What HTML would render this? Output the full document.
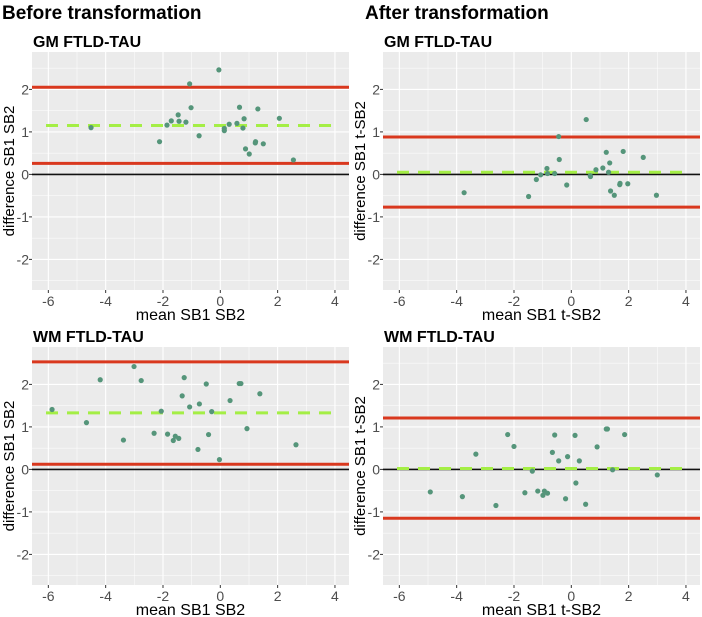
<!DOCTYPE html>
<html><head><meta charset="utf-8"><style>
html,body{margin:0;padding:0;background:#fff;}
svg{display:block;font-family:"Liberation Sans",Arial,sans-serif;}
</style></head><body>
<svg id="chart" width="702" height="617" viewBox="0 0 702 617">
<text x="2" y="19" font-size="19" font-weight="bold" fill="#000">Before transformation</text>
<text x="365" y="19" font-size="19" font-weight="bold" fill="#000">After transformation</text>
</svg>
<script>
const xTicks=[-6,-4,-2,0,2,4];
const yTicks=[-2,-1,0,1,2];
const gmBeforeX=[-4.51,-2.12,-1.86,-1.71,-1.47,-1.44,-1.20,-1.07,-1.02,-0.74,-0.05,0.14,0.14,0.31,0.58,0.67,0.79,0.83,0.88,1.01,1.22,1.23,1.31,1.50,2.06,2.55];
const gmBeforeY=[1.10,0.77,1.16,1.26,1.40,1.25,1.23,2.13,1.57,0.91,2.46,1.03,1.08,1.18,1.20,1.58,1.09,1.31,0.60,0.48,0.74,0.77,1.54,0.72,1.32,0.34];
const gmBeforeLines=[2.05,1.15,0.26];
const gmAfterX=[-3.74,-1.49,-1.22,-1.07,-0.85,-0.83,-0.58,-0.44,-0.42,-0.16,0.52,0.66,0.67,0.86,1.10,1.22,1.30,1.34,1.37,1.50,1.69,1.70,1.81,1.97,2.51,2.97];
const gmAfterY=[-0.43,-0.52,-0.12,-0.01,0.14,0.02,0.02,0.89,0.35,-0.25,1.29,-0.03,-0.05,0.11,0.15,0.52,0.05,0.27,-0.39,-0.49,-0.24,-0.21,0.54,-0.22,0.40,-0.49];
const gmAfterLines=[0.88,0.05,-0.77];
const wmBeforeX=[-5.87,-4.67,-4.19,-3.38,-3.01,-2.76,-2.31,-2.06,-1.84,-1.64,-1.57,-1.45,-1.33,-1.26,-1.07,-0.78,-0.73,-0.49,-0.41,-0.30,-0.03,0.34,0.66,0.72,0.93,1.38,2.64];
const wmBeforeY=[1.41,1.10,2.11,0.69,2.42,2.09,0.85,1.37,0.83,0.68,0.78,0.73,1.73,2.16,1.47,0.47,1.54,2.01,0.82,1.36,0.23,1.62,2.02,2.02,0.96,1.78,0.58];
const wmBeforeLines=[2.53,1.33,0.12];
const wmAfterX=[-4.92,-3.80,-3.33,-2.63,-2.22,-2.00,-1.62,-1.36,-1.17,-0.99,-0.94,-0.83,-0.66,-0.58,-0.44,-0.20,-0.13,0.13,0.16,0.28,0.50,0.90,1.22,1.26,1.44,1.86,3.00];
const wmAfterY=[-0.53,-0.64,0.36,-0.85,0.82,0.54,-0.55,-0.04,-0.51,-0.61,-0.51,-0.56,0.40,0.81,0.20,-0.69,0.30,0.80,-0.32,0.20,-0.82,0.53,0.95,0.95,-0.01,0.82,-0.13];
const wmAfterLines=[1.21,0.02,-1.15];

const NS="http://www.w3.org/2000/svg";
const svg=document.getElementById('chart');
function mk(tag,attrs,parent){const e=document.createElementNS(NS,tag);for(const k in attrs)e.setAttribute(k,attrs[k]);(parent||svg).appendChild(e);return e;}
function lab(v){return v<0?'-'+Math.abs(v):String(v);}

function panel(key,ox,oy,title,xlab,ylab,xs,ys,lines){
  const L=ox+32,R=ox+349,T=oy+52,B=oy+290;
  const x0=-6.57,x1=4.49,y0=-2.72,y1=2.88;
  const sx=v=>L+(v-x0)/(x1-x0)*(R-L);
  const sy=v=>B-(v-y0)/(y1-y0)*(B-T);
  const g=mk('g',{});
  
  
  const t=mk('text',{x:ox+33,y:oy+47,'font-size':16,'font-weight':'bold',fill:'#000'},g);
  t.textContent=title;
  
  
  const bg=mk('rect',{x:L,y:T,width:R-L,height:B-T,fill:'#ebebeb'},g);
  
  
  for(let v=-7;v<=5;v++){const px=sx(v);if(px<L||px>R)continue;const ln=mk('line',{x1:px,x2:px,y1:T,y2:B,stroke:'#fff','stroke-width':v%2===0?1.1:0.5},g);}
  for(let v=-2.5;v<=2.5;v+=0.5){const py=sy(v);const ln=mk('line',{x1:L,x2:R,y1:py,y2:py,stroke:'#fff','stroke-width':Number.isInteger(v)?1.1:0.5},g);}
  xTicks.forEach(v=>{const px=sx(v);mk('line',{x1:px,x2:px,y1:B,y2:B+3,stroke:'#333'},g);const tx=mk('text',{x:px,y:B+16,'font-size':14,fill:'#4d4d4d','text-anchor':'middle'},g);tx.textContent=lab(v);});
  yTicks.forEach(v=>{const py=sy(v);mk('line',{x1:L-3,x2:L,y1:py,y2:py,stroke:'#333'},g);const ty=mk('text',{x:L-3,y:py+5,'font-size':14,fill:'#4d4d4d','text-anchor':'end'},g);ty.textContent=lab(v);});
  const xl=mk('text',{x:(L+R)/2,y:B+30,'font-size':16,fill:'#000','text-anchor':'middle'},g);
  xl.textContent=xlab;
  
  
  const cy=(T+B)/2;
  const yl=mk('text',{x:ox+9,y:cy,'font-size':15,fill:'#000','text-anchor':'middle',transform:`rotate(-90 ${ox+9} ${cy})`,dy:5},g);
  yl.textContent=ylab;
  
  
  const z=mk('line',{x1:L,x2:R,y1:sy(0),y2:sy(0),stroke:'#111','stroke-width':1.6},g);
  
  
  const up=mk('line',{x1:L,x2:R,y1:sy(lines[0]),y2:sy(lines[0]),stroke:'#d9381e','stroke-width':3},g);
  
  
  const lo=mk('line',{x1:L,x2:R,y1:sy(lines[2]),y2:sy(lines[2]),stroke:'#d9381e','stroke-width':3},g);
  
  
  const mn=mk('line',{x1:L+14,x2:R-14,y1:sy(lines[1]),y2:sy(lines[1]),stroke:'#a4ee45','stroke-width':3,'stroke-dasharray':'12 9'},g);
  
  
  xs.forEach((v,i)=>{const c=mk('circle',{cx:sx(v),cy:sy(ys[i]),r:2.6,fill:'#55957a'},g);});
}
panel('gm-before',0,0,'GM FTLD-TAU','mean SB1 SB2','difference SB1 SB2',gmBeforeX,gmBeforeY,gmBeforeLines);
panel('gm-after',351,0,'GM FTLD-TAU','mean SB1 t-SB2','difference SB1 t-SB2',gmAfterX,gmAfterY,gmAfterLines);
panel('wm-before',0,295,'WM FTLD-TAU','mean SB1 SB2','difference SB1 SB2',wmBeforeX,wmBeforeY,wmBeforeLines);
panel('wm-after',351,295,'WM FTLD-TAU','mean SB1 t-SB2','difference SB1 t-SB2',wmAfterX,wmAfterY,wmAfterLines);
</script>
</body></html>
